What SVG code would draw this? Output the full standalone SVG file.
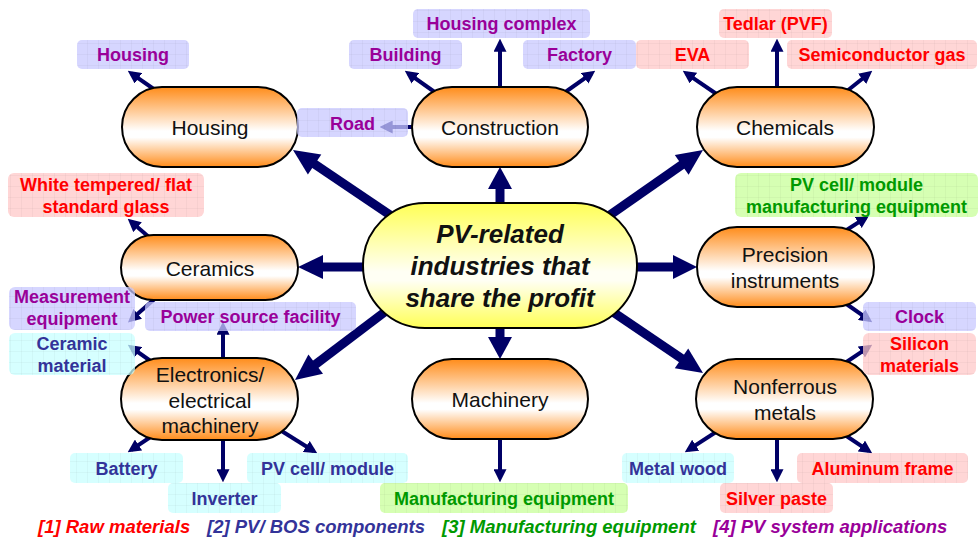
<svg xmlns="http://www.w3.org/2000/svg" width="979" height="539" viewBox="0 0 979 539">
<defs>
<linearGradient id="gOr" x1="0" y1="0" x2="0" y2="1">
<stop offset="0" stop-color="#FF8C1A"/><stop offset="0.55" stop-color="#FFFFFF"/><stop offset="0.63" stop-color="#FFFFFF"/><stop offset="1" stop-color="#FF8C1A"/>
</linearGradient>
<linearGradient id="gYe" x1="0" y1="0" x2="0" y2="1">
<stop offset="0" stop-color="#FFFF55"/><stop offset="0.55" stop-color="#FFFFF4"/><stop offset="0.62" stop-color="#FFFFF4"/><stop offset="1" stop-color="#FFFF55"/>
</linearGradient>
<pattern id="grid" width="11" height="11" patternUnits="userSpaceOnUse">
<path d="M11,0 V11 M0,11 H11" fill="none" stroke="#000" stroke-opacity="0.06" stroke-width="1"/>
</pattern>
<marker id="ah" viewBox="0 0 12 12" refX="8" refY="6" markerWidth="13" markerHeight="13" markerUnits="userSpaceOnUse" orient="auto">
<path d="M0,0 L12,6 L0,12 z" fill="#000066"/>
</marker>
</defs>
<style>
.pill{fill:url(#gOr);stroke:#000;stroke-width:2}
.ctr{fill:url(#gYe);stroke:#000;stroke-width:2}
.nt{font-family:"Liberation Sans",Arial,sans-serif;font-size:21px;fill:#111;text-anchor:middle}
.ct{font-family:"Liberation Sans",Arial,sans-serif;font-size:26px;font-weight:bold;font-style:italic;fill:#111;text-anchor:middle}
.thin{stroke:#000066;stroke-width:4;fill:none;marker-end:url(#ah)}
.thick{stroke:#000066;stroke-width:9;fill:none}
.head{fill:#000066}
.bx{opacity:0.75}
.pu .bx{fill:#C8C8FF}.re .bx{fill:#FFC8C8}.bl .bx{fill:#C8FFFF}.gr .bx{fill:#C8FF9A}
.gd{fill:url(#grid)}
.lt{font-family:"Liberation Sans",Arial,sans-serif;font-size:18px;font-weight:bold;text-anchor:middle}
.pu .lt{fill:#990099}.re .lt{fill:#FF0000}.bl .lt{fill:#333399}.gr .lt{fill:#009900}
.lg{font-family:"Liberation Sans",Arial,sans-serif;font-size:18.5px;font-weight:bold;font-style:italic}
</style>
<rect width="979" height="539" fill="#fff"/>

<g id="connectors">
<line class="thick" x1="500" y1="205" x2="500" y2="186"/><polygon class="head" points="500,167 488,189 512,189"/>
<line class="thick" x1="500" y1="326" x2="500" y2="340"/><polygon class="head" points="500,359 488,337 512,337"/>
<line class="thick" x1="365" y1="267" x2="320" y2="267"/><polygon class="head" points="298,267 323,255 323,279"/>
<line class="thick" x1="635" y1="267" x2="676" y2="267"/><polygon class="head" points="697,267 673,255 673,279"/>
<line class="thick" x1="390" y1="215" x2="310" y2="161"/><polygon class="head" points="293,150 307.9,174.5 321.3,154.5"/>
<line class="thick" x1="610" y1="215" x2="686.6" y2="161.5"/><polygon class="head" points="703,150 688.6,174.7 674.8,155.1"/>
<line class="thick" x1="390" y1="308" x2="310.9" y2="367.9"/><polygon class="head" points="295,380 323,373.8 308.4,354.6"/>
<line class="thick" x1="610" y1="310" x2="686.4" y2="361.8"/><polygon class="head" points="703,373 674.8,368.3 688.2,348.5"/>

<line class="thin" x1="158" y1="92" x2="131.3" y2="73.3"/>
<line class="thin" x1="436" y1="93" x2="408.3" y2="73.3"/>
<line class="thin" x1="500" y1="90" x2="500" y2="43"/>
<line class="thin" x1="564" y1="93" x2="591.7" y2="73.3"/>
<line class="thin" x1="414" y1="127" x2="384" y2="127"/>
<line class="thin" x1="718" y1="95" x2="686.3" y2="73.3"/>
<line class="thin" x1="777" y1="90" x2="777" y2="43"/>
<line class="thin" x1="847" y1="91" x2="868.9" y2="73.5"/>
<line class="thin" x1="150" y1="238" x2="131" y2="221.6"/>
<line class="thin" x1="158" y1="296" x2="131.2" y2="319.6"/>
<line class="thin" x1="152" y1="362" x2="131.3" y2="347.3"/>
<line class="thin" x1="223" y1="362" x2="223" y2="326"/>
<line class="thin" x1="152" y1="436" x2="131.3" y2="449.8"/>
<line class="thin" x1="223" y1="438" x2="223" y2="478"/>
<line class="thin" x1="280" y1="430" x2="313.6" y2="451"/>
<line class="thin" x1="500" y1="437" x2="500" y2="478"/>
<line class="thin" x1="845" y1="231" x2="865.5" y2="217.9"/>
<line class="thin" x1="845" y1="303" x2="868.7" y2="319.7"/>
<line class="thin" x1="845" y1="363" x2="868.6" y2="347.2"/>
<line class="thin" x1="716" y1="432" x2="688.4" y2="449.9"/>
<line class="thin" x1="777" y1="437" x2="777" y2="478"/>
<line class="thin" x1="845" y1="435" x2="868.6" y2="450.8"/>
</g>

<g id="n-center"><rect class="ctr" x="363" y="203" width="274" height="125" rx="62" ry="62"/>
<text class="ct" x="500" y="243">PV-related</text><text class="ct" x="500" y="275">industries that</text><text class="ct" x="500" y="307">share the profit</text></g>
<g id="n-housing"><rect class="pill" x="122" y="87" width="176" height="80" rx="40"/><text class="nt" x="210" y="135">Housing</text></g>
<g id="n-construction"><rect class="pill" x="412" y="87" width="176" height="80" rx="40"/><text class="nt" x="500" y="135">Construction</text></g>
<g id="n-chemicals"><rect class="pill" x="697" y="87" width="177" height="80" rx="40"/><text class="nt" x="785" y="135">Chemicals</text></g>
<g id="n-ceramics"><rect class="pill" x="121" y="235" width="177" height="65" rx="32.5"/><text class="nt" x="210" y="276">Ceramics</text></g>
<g id="n-precision"><rect class="pill" x="697" y="227" width="177" height="80" rx="40"/><text class="nt" x="785" y="262">Precision</text><text class="nt" x="785" y="288">instruments</text></g>
<g id="n-electronics"><rect class="pill" x="121" y="358" width="177" height="82" rx="41"/><text class="nt" x="210" y="382">Electronics/</text><text class="nt" x="210" y="408">electrical</text><text class="nt" x="210" y="433">machinery</text></g>
<g id="n-machinery"><rect class="pill" x="412" y="359" width="176" height="80" rx="40"/><text class="nt" x="500" y="407">Machinery</text></g>
<g id="n-nonferrous"><rect class="pill" x="696" y="359" width="177" height="80" rx="40"/><text class="nt" x="785" y="394">Nonferrous</text><text class="nt" x="785" y="420">metals</text></g>

<g id="b-housing" class="pu"><rect class="bx" x="77" y="40" width="112" height="29" rx="5"/><rect class="gd" x="77" y="40" width="112" height="29" rx="5"/><text class="lt" x="133" y="61">Housing</text></g>
<g id="b-building" class="pu"><rect class="bx" x="349" y="40" width="113" height="29" rx="5"/><rect class="gd" x="349" y="40" width="113" height="29" rx="5"/><text class="lt" x="405.5" y="61">Building</text></g>
<g id="b-complex" class="pu"><rect class="bx" x="413" y="9" width="177" height="29" rx="5"/><rect class="gd" x="413" y="9" width="177" height="29" rx="5"/><text class="lt" x="501.5" y="30">Housing complex</text></g>
<g id="b-factory" class="pu"><rect class="bx" x="523" y="40" width="113" height="29" rx="5"/><rect class="gd" x="523" y="40" width="113" height="29" rx="5"/><text class="lt" x="579.5" y="61">Factory</text></g>
<g id="b-road" class="pu"><rect class="bx" x="297" y="108" width="111" height="29" rx="5"/><rect class="gd" x="297" y="108" width="111" height="29" rx="5"/><text class="lt" x="352.5" y="130">Road</text></g>
<g id="b-eva" class="re"><rect class="bx" x="636" y="40" width="113" height="29" rx="5"/><rect class="gd" x="636" y="40" width="113" height="29" rx="5"/><text class="lt" x="692.5" y="61">EVA</text></g>
<g id="b-tedlar" class="re"><rect class="bx" x="719" y="9" width="113" height="29" rx="5"/><rect class="gd" x="719" y="9" width="113" height="29" rx="5"/><text class="lt" x="775.5" y="30">Tedlar (PVF)</text></g>
<g id="b-semi" class="re"><rect class="bx" x="787" y="40" width="190" height="29" rx="5"/><rect class="gd" x="787" y="40" width="190" height="29" rx="5"/><text class="lt" x="882" y="61">Semiconductor gas</text></g>
<g id="b-glass" class="re"><rect class="bx" x="8" y="173" width="196" height="44" rx="6"/><rect class="gd" x="8" y="173" width="196" height="44" rx="6"/><text class="lt" x="106" y="191">White tempered/ flat</text><text class="lt" x="106" y="213">standard glass</text></g>
<g id="b-measure" class="pu"><rect class="bx" x="9" y="287" width="126" height="43" rx="6"/><rect class="gd" x="9" y="287" width="126" height="43" rx="6"/><text class="lt" x="72" y="303">Measurement</text><text class="lt" x="72" y="325">equipment</text></g>
<g id="b-power" class="pu"><rect class="bx" x="145" y="302" width="211" height="29" rx="5"/><rect class="gd" x="145" y="302" width="211" height="29" rx="5"/><text class="lt" x="250.5" y="323">Power source facility</text></g>
<g id="b-ceramicmat" class="bl"><rect class="bx" x="9" y="333" width="126" height="42" rx="6"/><rect class="gd" x="9" y="333" width="126" height="42" rx="6"/><text class="lt" x="72" y="350">Ceramic</text><text class="lt" x="72" y="372">material</text></g>
<g id="b-pvmfg" class="gr"><rect class="bx" x="735" y="173" width="243" height="44" rx="6"/><rect class="gd" x="735" y="173" width="243" height="44" rx="6"/><text class="lt" x="856.5" y="191">PV cell/ module</text><text class="lt" x="856.5" y="213">manufacturing equipment</text></g>
<g id="b-clock" class="pu"><rect class="bx" x="863" y="302" width="113" height="29" rx="5"/><rect class="gd" x="863" y="302" width="113" height="29" rx="5"/><text class="lt" x="919.5" y="323">Clock</text></g>
<g id="b-silicon" class="re"><rect class="bx" x="863" y="333" width="113" height="42" rx="6"/><rect class="gd" x="863" y="333" width="113" height="42" rx="6"/><text class="lt" x="919.5" y="350">Silicon</text><text class="lt" x="919.5" y="372">materials</text></g>
<g id="b-battery" class="bl"><rect class="bx" x="70" y="453" width="113" height="30" rx="5"/><rect class="gd" x="70" y="453" width="113" height="30" rx="5"/><text class="lt" x="126.5" y="475">Battery</text></g>
<g id="b-inverter" class="bl"><rect class="bx" x="168" y="483" width="113" height="30" rx="5"/><rect class="gd" x="168" y="483" width="113" height="30" rx="5"/><text class="lt" x="224.5" y="505">Inverter</text></g>
<g id="b-pvcell" class="bl"><rect class="bx" x="247" y="453" width="161" height="30" rx="5"/><rect class="gd" x="247" y="453" width="161" height="30" rx="5"/><text class="lt" x="327.5" y="475">PV cell/ module</text></g>
<g id="b-mfg" class="gr"><rect class="bx" x="380" y="483" width="248" height="30" rx="5"/><rect class="gd" x="380" y="483" width="248" height="30" rx="5"/><text class="lt" x="504" y="505">Manufacturing equipment</text></g>
<g id="b-metalwood" class="bl"><rect class="bx" x="622" y="453" width="112" height="30" rx="5"/><rect class="gd" x="622" y="453" width="112" height="30" rx="5"/><text class="lt" x="678" y="475">Metal wood</text></g>
<g id="b-silver" class="re"><rect class="bx" x="720" y="483" width="113" height="30" rx="5"/><rect class="gd" x="720" y="483" width="113" height="30" rx="5"/><text class="lt" x="776.5" y="505">Silver paste</text></g>
<g id="b-aluminum" class="re"><rect class="bx" x="797" y="453" width="171" height="30" rx="5"/><rect class="gd" x="797" y="453" width="171" height="30" rx="5"/><text class="lt" x="882.5" y="475">Aluminum frame</text></g>

<g id="legend">
<text class="lg" x="38" y="533" fill="#FF0000">[1] Raw materials</text>
<text class="lg" x="207" y="533" fill="#333399">[2] PV/ BOS components</text>
<text class="lg" x="442" y="533" fill="#009900">[3] Manufacturing equipment</text>
<text class="lg" x="713" y="533" fill="#990099">[4] PV system applications</text>
</g>
</svg>
